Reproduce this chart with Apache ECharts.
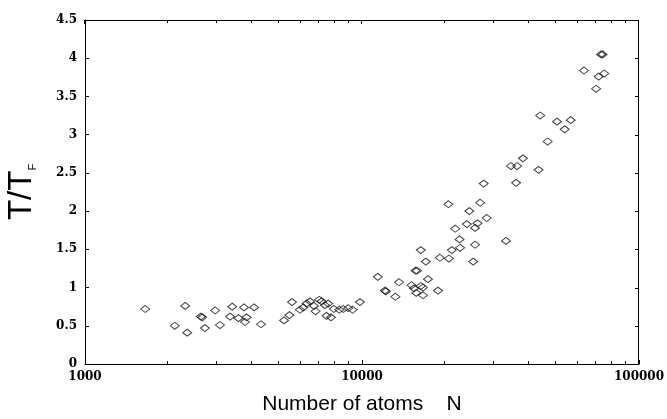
<!DOCTYPE html>
<html>
<head>
<meta charset="utf-8">
<style>
  html, body { margin: 0; padding: 0; background: #fff; }
  #chart { width: 667px; height: 419px; }
</style>
<script src="https://cdn.jsdelivr.net/npm/echarts@6/dist/echarts.min.js"></script>
</head>
<body>
<div id="chart"></div>
<script>
// Number of atoms N for each measurement
const atoms = [
  1650, 2110, 2300, 2340, 2620, 2650, 2710, 2950, 3070, 3340,
  3400, 3580, 3750, 3780, 3830, 4080, 4320, 5230, 5470, 5590,
  5970, 6140, 6310, 6490, 6710, 6800, 7010, 7150, 7350, 7450,
  7550, 7730, 7920, 8280, 8560, 8920, 9250, 9830,
  11400, 12100, 12200, 13200, 13600, 15100, 15400, 15600, 15800, 15700,
  16300, 16600, 16600, 16300, 17000, 17300, 18800, 19100, 20500, 20600,
  21100, 21700, 22500, 22600, 23900, 24400, 25200, 25600, 25600, 26100,
  26700, 27500, 28200, 33100, 34500, 36000, 36300, 38100, 43400, 44000,
  46800, 50600, 53900, 56700, 63300, 70000, 71500, 72900, 73900, 74900
];

// Reduced temperature T/T_F for each measurement
const tempRatio = [
  0.72, 0.50, 0.76, 0.41, 0.62, 0.61, 0.47, 0.70, 0.51, 0.62,
  0.75, 0.60, 0.74, 0.55, 0.61, 0.74, 0.52, 0.57, 0.64, 0.81,
  0.71, 0.74, 0.79, 0.82, 0.76, 0.69, 0.84, 0.82, 0.77, 0.63,
  0.79, 0.61, 0.72, 0.71, 0.72, 0.73, 0.71, 0.81,
  1.14, 0.96, 0.95, 0.88, 1.07, 1.03, 0.99, 1.22, 1.22, 0.93,
  1.02, 1.00, 0.90, 1.49, 1.34, 1.11, 0.96, 1.39, 2.09, 1.38,
  1.49, 1.77, 1.63, 1.52, 1.83, 2.00, 1.34, 1.78, 1.56, 1.84,
  2.11, 2.36, 1.91, 1.61, 2.59, 2.37, 2.59, 2.69, 2.54, 3.25,
  2.91, 3.17, 3.07, 3.19, 3.84, 3.60, 3.76, 4.05, 4.05, 3.80
];

// Tick values on the logarithmic N axis (decades and the steps between them)
const xMajorTicks = [1000, 10000, 100000];
const xMinorTicks = [
  2000, 3000, 4000, 5000, 6000, 7000, 8000, 9000,
  20000, 30000, 40000, 50000, 60000, 70000, 80000, 90000
];
// Tick values on the T/T_F axis
const yTicks = [0, 0.5, 1, 1.5, 2, 2.5, 3, 3.5, 4, 4.5];

const xMin = 1000, xMax = 100000;
const yMin = 0, yMax = 4.5, yStep = 0.5;

const points = atoms.map((n, i) => [n, tempRatio[i]]);

const chart = echarts.init(document.getElementById('chart'), null, { renderer: 'canvas' });

const tickLabelFont = {
  fontFamily: 'DejaVu Serif',
  fontWeight: 'bold',
  fontSize: 12,
  color: '#000'
};
const frameLine = { show: true, onZero: false, lineStyle: { color: '#000', width: 1 } };
const innerTick = { show: true, inside: true, length: 4, lineStyle: { color: '#000' } };
const tickStyle = { stroke: '#000', lineWidth: 1 };

// snap a 1px line onto a pixel column/row so it stays sharp
const crisp = v => Math.round(v) - 0.5;

// Frame pieces the axes do not draw themselves: the top and right edges,
// and inward ticks along the top, bottom (minor) and right sides.
function frameTicks(params, api) {
  const kind = api.value(0);
  const v = api.value(1);
  const len = api.value(2);
  if (kind === 0) {
    const top = api.coord([v, yMax]);
    const x = crisp(top[0]);
    return { type: 'line', shape: { x1: x, y1: top[1], x2: x, y2: top[1] + len }, style: tickStyle };
  }
  if (kind === 1) {
    const bottom = api.coord([v, yMin]);
    const x = crisp(bottom[0]);
    return { type: 'line', shape: { x1: x, y1: bottom[1], x2: x, y2: bottom[1] - len }, style: tickStyle };
  }
  if (kind === 2) {
    const right = api.coord([xMax, v]);
    const y = crisp(right[1]) + 1;
    return { type: 'line', shape: { x1: right[0], y1: y, x2: right[0] - len, y2: y }, style: tickStyle };
  }
  const a = api.coord([xMin, yMin]);
  const b = api.coord([xMax, yMax]);
  const xr = crisp(b[0]);
  const yt = crisp(b[1]) + 1;
  return {
    type: 'polyline',
    shape: { points: [[a[0], yt], [xr, yt], [xr, a[1]]] },
    style: { stroke: '#000', lineWidth: 1, fill: null }
  };
}

const tickData = []
  .concat(xMajorTicks.map(v => [0, v, 4]))
  .concat(xMinorTicks.map(v => [0, v, 3]))
  .concat(xMinorTicks.map(v => [1, v, 3]))
  .concat(yTicks.map(v => [2, v, 4]))
  .concat([[3, xMax, 0]]);

chart.setOption({
  animation: false,
  backgroundColor: '#fff',
  grid: {
    left: 85, right: 28, top: 20, bottom: 55,
    containLabel: false,
    outerBoundsMode: 'none'
  },
  xAxis: {
    type: 'log', logBase: 10, min: xMin, max: xMax,
    position: 'bottom',
    axisLine: frameLine,
    axisTick: innerTick,
    splitLine: { show: false },
    axisLabel: Object.assign({ margin: 7, formatter: v => String(Math.round(v)) }, tickLabelFont),
    name: 'Number of atoms    N',
    nameLocation: 'middle',
    nameGap: 30,
    nameTextStyle: { fontFamily: 'Liberation Sans', fontSize: 21, color: '#000' }
  },
  yAxis: {
    type: 'value', min: yMin, max: yMax, interval: yStep,
    position: 'left',
    axisLine: frameLine,
    axisTick: innerTick,
    splitLine: { show: false },
    axisLabel: Object.assign({ margin: 8 }, tickLabelFont),
    name: '{a|T/T}{b|F}',
    nameLocation: 'middle',
    nameRotate: 90,
    nameGap: 47,
    nameTextStyle: {
      rich: {
        a: { fontFamily: 'Liberation Sans', fontSize: 33, color: '#000', lineHeight: 33 },
        b: { fontFamily: 'Liberation Sans', fontSize: 11, color: '#000', verticalAlign: 'bottom', lineHeight: 33 }
      }
    }
  },
  series: [
    {
      type: 'scatter',
      data: points,
      symbol: 'diamond',
      symbolSize: [9, 7],
      itemStyle: { color: 'rgba(255,255,255,0)', borderColor: '#111', borderWidth: 1 },
      emphasis: { disabled: true }
    },
    {
      type: 'custom',
      silent: true,
      clip: false,
      data: tickData,
      encode: { x: 1, y: -1 },
      renderItem: frameTicks
    }
  ]
});
</script>
</body>
</html>
